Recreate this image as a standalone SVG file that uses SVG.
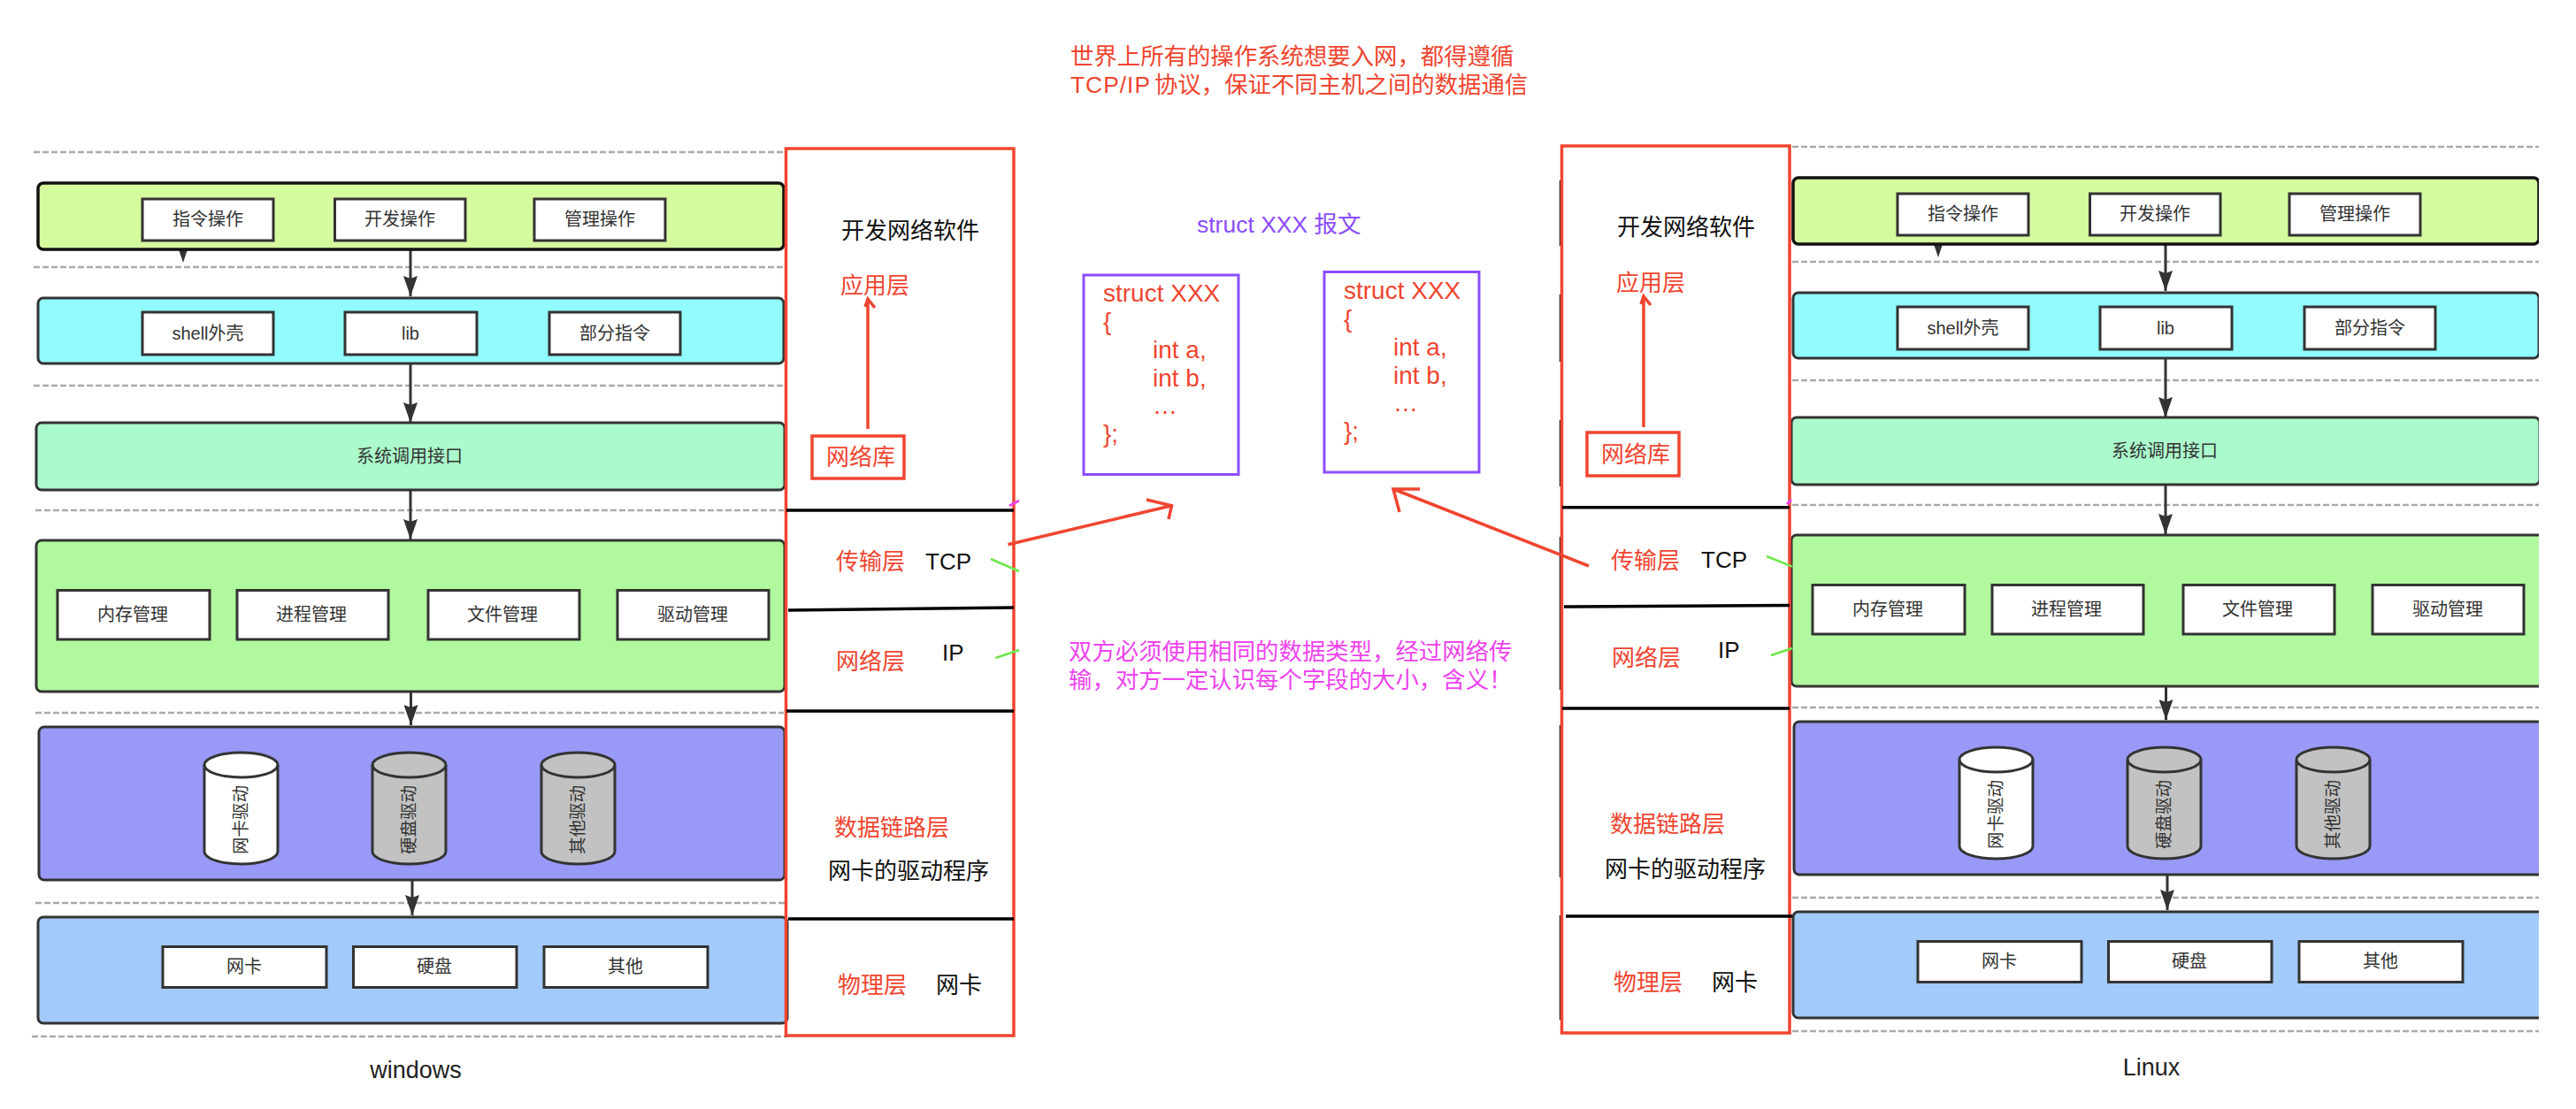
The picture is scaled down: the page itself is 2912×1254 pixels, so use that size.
<svg xmlns="http://www.w3.org/2000/svg" width="2912" height="1254" viewBox="0 0 2912 1254">
<style>
text{font-family:"Liberation Sans","Noto Sans CJK SC",sans-serif}
.bg{fill:#fff}
.bar{stroke:#333;stroke-width:3}
.top{fill:#d5fb9f;stroke:#111;stroke-width:3.5}
.cy{fill:#91fbfd}.sys{fill:#abfacb}.gr{fill:#b0f99f}.pu{fill:#9999f7}.bl{fill:#a2cafa}
.box{fill:#fff;stroke:#333;stroke-width:3}
.cyl{stroke:#333;stroke-width:3}
.cw{fill:#fff}.cg{fill:#c2c2c2}
.cylt{fill:none;stroke:#333;stroke-width:3}
.lb{font-size:20px;fill:#333;text-anchor:middle}
.vl{font-size:19.500px;fill:#333;text-anchor:middle}
.dash{stroke:#aaa;stroke-width:2.5;stroke-dasharray:7 3;fill:none}
.flow{stroke:#333;stroke-width:3;fill:none;marker-end:url(#ah)}
.rr{fill:none;stroke:#f04530;stroke-width:3.5}
.pb{fill:none;stroke:#8b4dff;stroke-width:3}
.bk{stroke:#000;stroke-width:3.5;fill:none}
.ra{fill:none;stroke:#f04530;stroke-width:3.5}
.gt{stroke:#6ce84a;stroke-width:2.5;fill:none}
.pt{stroke:#ee44ee;stroke-width:3;fill:none}
.rt{font-size:26px;fill:#f04530}
.nt{font-size:26.4px;fill:#f04530}
.kt{font-size:26px;fill:#111}
.st{font-size:28px;fill:#f04530}
.pk{font-size:26.4px;fill:#ee44ee}
.vt{font-size:26.5px;fill:#8b4dff}
.cap{font-size:27px;fill:#222;text-anchor:middle}
</style>
<defs>
<marker id="ah" markerUnits="userSpaceOnUse" markerWidth="24" markerHeight="16" refX="23" refY="8" orient="auto"><path d="M0,0L23,8L0,16L3,8Z" fill="#333"/></marker>
<clipPath id="crop"><rect x="0" y="0" width="2870" height="1254"/></clipPath>
</defs>
<rect class="bg" width="2912" height="1254"/>

<g id="guides-left" class="dash">
<path d="M38,172H886M38,302H886M38,436H886M40,577H886M40,806H886M40,1021H890M36,1172H890"/>
</g>
<g id="guides-right" class="dash">
<path d="M2026,166H2870M2026,296H2870M2026,430H2870M2026,571H2870M2026,800H2870M2026,1015H2870M2026,1166H2870"/>
</g>

<g id="connectors">
<g id="connectors-left">
<path class="flow" d="M464,282V335"/>
<path class="flow" d="M464,411V478"/>
<path class="flow" d="M464,554V610"/>
<path class="flow" d="M464.500,782V820"/>
<path class="flow" d="M466,995V1035"/>
<path d="M202,282H212L207,297Z" fill="#333"/>
</g>
<g id="connectors-right">
<path class="flow" d="M2448,276V329"/>
<path class="flow" d="M2448,405V472"/>
<path class="flow" d="M2448,548V604"/>
<path class="flow" d="M2448.500,776V814"/>
<path class="flow" d="M2450,989V1029"/>
<path d="M2186,276H2196L2191,291Z" fill="#333"/>
</g>
</g>

<g id="win-apps">
<rect class="top" x="43" y="207" width="843" height="75" rx="6"/>
<g id="win-a1"><rect class="box" x="161" y="225" width="148" height="47"/><text class="lb" x="235" y="255">指令操作</text></g>
<g id="win-a2"><rect class="box" x="378.500" y="225" width="147.500" height="47"/><text class="lb" x="452" y="255">开发操作</text></g>
<g id="win-a3"><rect class="box" x="604" y="225" width="148" height="47"/><text class="lb" x="678" y="255">管理操作</text></g>
</g>
<g id="win-shell">
<rect class="bar cy" x="43" y="337" width="843" height="74" rx="6"/>
<g id="win-s1"><rect class="box" x="161" y="353" width="148" height="48"/><text class="lb" x="235" y="384">shell外壳</text></g>
<g id="win-s2"><rect class="box" x="390" y="353" width="149" height="48"/><text class="lb" x="464" y="384">lib</text></g>
<g id="win-s3"><rect class="box" x="621" y="353" width="148" height="48"/><text class="lb" x="695" y="384">部分指令</text></g>
</g>
<g id="win-syscall">
<rect class="bar sys" x="41" y="478" width="846" height="76" rx="6"/>
<text class="lb" x="463" y="523">系统调用接口</text>
</g>
<g id="win-kernel">
<rect class="bar gr" x="41" y="611" width="846" height="171" rx="6"/>
<g id="win-k1"><rect class="box" x="65" y="667.500" width="172" height="55.500"/><text class="lb" x="150" y="702">内存管理</text></g>
<g id="win-k2"><rect class="box" x="268" y="667.500" width="171" height="55.500"/><text class="lb" x="352" y="702">进程管理</text></g>
<g id="win-k3"><rect class="box" x="484" y="667.500" width="171" height="55.500"/><text class="lb" x="568" y="702">文件管理</text></g>
<g id="win-k4"><rect class="box" x="698" y="667.500" width="171" height="55.500"/><text class="lb" x="783" y="702">驱动管理</text></g>
</g>
<g id="win-drivers">
<rect class="bar pu" x="44" y="822" width="843" height="173" rx="6"/>
<g id="win-d1"><path class="cyl cw" d="M231,865A41.500,14 0 0 1 314,865V963A41.500,14 0 0 1 231,963Z"/><path class="cylt" d="M231,865A41.500,14 0 0 0 314,865"/><text class="vl" transform="rotate(-90 272 927)" x="272" y="934">网卡驱动</text></g>
<g id="win-d2"><path class="cyl cg" d="M421,865A41.500,14 0 0 1 504,865V963A41.500,14 0 0 1 421,963Z"/><path class="cylt" d="M421,865A41.500,14 0 0 0 504,865"/><text class="vl" transform="rotate(-90 462 927)" x="462" y="934">硬盘驱动</text></g>
<g id="win-d3"><path class="cyl cg" d="M612,865A41.500,14 0 0 1 695,865V963A41.500,14 0 0 1 612,963Z"/><path class="cylt" d="M612,865A41.500,14 0 0 0 695,865"/><text class="vl" transform="rotate(-90 653 927)" x="653" y="934">其他驱动</text></g>
</g>
<g id="win-hw">
<rect class="bar bl" x="43" y="1037" width="847" height="120" rx="6"/>
<g id="win-h1"><rect class="box" x="184" y="1070.500" width="185" height="46"/><text class="lb" x="276" y="1100">网卡</text></g>
<g id="win-h2"><rect class="box" x="399.500" y="1070.500" width="184.500" height="46"/><text class="lb" x="491" y="1100">硬盘</text></g>
<g id="win-h3"><rect class="box" x="615" y="1070.500" width="185" height="46"/><text class="lb" x="707" y="1100">其他</text></g>
</g>
<text id="win-caption" class="cap" x="470" y="1219">windows</text>

<g clip-path="url(#crop)">
<g transform="translate(1984,-6)">
<g id="lin-apps">
<rect class="top" x="43" y="207" width="843" height="75" rx="6"/>
<g id="lin-a1"><rect class="box" x="161" y="225" width="148" height="47"/><text class="lb" x="235" y="255">指令操作</text></g>
<g id="lin-a2"><rect class="box" x="378.500" y="225" width="147.500" height="47"/><text class="lb" x="452" y="255">开发操作</text></g>
<g id="lin-a3"><rect class="box" x="604" y="225" width="148" height="47"/><text class="lb" x="678" y="255">管理操作</text></g>
</g>
<g id="lin-shell">
<rect class="bar cy" x="43" y="337" width="843" height="74" rx="6"/>
<g id="lin-s1"><rect class="box" x="161" y="353" width="148" height="48"/><text class="lb" x="235" y="384">shell外壳</text></g>
<g id="lin-s2"><rect class="box" x="390" y="353" width="149" height="48"/><text class="lb" x="464" y="384">lib</text></g>
<g id="lin-s3"><rect class="box" x="621" y="353" width="148" height="48"/><text class="lb" x="695" y="384">部分指令</text></g>
</g>
<g id="lin-syscall">
<rect class="bar sys" x="41" y="478" width="846" height="76" rx="6"/>
<text class="lb" x="463" y="523">系统调用接口</text>
</g>
<g id="lin-kernel">
<rect class="bar gr" x="41" y="611" width="870" height="171" rx="6"/>
<g id="lin-k1"><rect class="box" x="65" y="667.500" width="172" height="55.500"/><text class="lb" x="150" y="702">内存管理</text></g>
<g id="lin-k2"><rect class="box" x="268" y="667.500" width="171" height="55.500"/><text class="lb" x="352" y="702">进程管理</text></g>
<g id="lin-k3"><rect class="box" x="484" y="667.500" width="171" height="55.500"/><text class="lb" x="568" y="702">文件管理</text></g>
<g id="lin-k4"><rect class="box" x="698" y="667.500" width="171" height="55.500"/><text class="lb" x="783" y="702">驱动管理</text></g>
</g>
<g id="lin-drivers">
<rect class="bar pu" x="44" y="822" width="870" height="173" rx="6"/>
<g id="lin-d1"><path class="cyl cw" d="M231,865A41.500,14 0 0 1 314,865V963A41.500,14 0 0 1 231,963Z"/><path class="cylt" d="M231,865A41.500,14 0 0 0 314,865"/><text class="vl" transform="rotate(-90 272 927)" x="272" y="934">网卡驱动</text></g>
<g id="lin-d2"><path class="cyl cg" d="M421,865A41.500,14 0 0 1 504,865V963A41.500,14 0 0 1 421,963Z"/><path class="cylt" d="M421,865A41.500,14 0 0 0 504,865"/><text class="vl" transform="rotate(-90 462 927)" x="462" y="934">硬盘驱动</text></g>
<g id="lin-d3"><path class="cyl cg" d="M612,865A41.500,14 0 0 1 695,865V963A41.500,14 0 0 1 612,963Z"/><path class="cylt" d="M612,865A41.500,14 0 0 0 695,865"/><text class="vl" transform="rotate(-90 653 927)" x="653" y="934">其他驱动</text></g>
</g>
<g id="lin-hw">
<rect class="bar bl" x="43" y="1037" width="870" height="120" rx="6"/>
<g id="lin-h1"><rect class="box" x="184" y="1070.500" width="185" height="46"/><text class="lb" x="276" y="1100">网卡</text></g>
<g id="lin-h2"><rect class="box" x="399.500" y="1070.500" width="184.500" height="46"/><text class="lb" x="491" y="1100">硬盘</text></g>
<g id="lin-h3"><rect class="box" x="615" y="1070.500" width="185" height="46"/><text class="lb" x="707" y="1100">其他</text></g>
</g>
</g>
</g>
<text id="lin-caption" class="cap" x="2432" y="1216">Linux</text>

<path id="edge-strip" d="M1764,204V278M1764,333V409M1764,475V550M1764,607V780M1764,820V992M1764,1035V1153" stroke="#223" stroke-width="2.500" fill="none"/>

<g id="stack-left">
<rect class="rr" x="888.500" y="168" width="257.500" height="1003"/>
<path class="bk" d="M889,577H1146M891,690L1146,687M889,804H1146M891,1039H1146"/>
<text class="kt" x="951" y="270">开发网络软件</text>
<text class="rt" x="950" y="332">应用层</text>
<g id="left-lib"><rect class="rr" x="918" y="493" width="104" height="48"/><text class="rt" x="934" y="526">网络库</text></g>
<text class="rt" x="945" y="644">传输层</text><text class="kt" x="1046" y="644">TCP</text>
<text class="rt" x="945" y="757">网络层</text><text class="kt" x="1065" y="747">IP</text>
<text class="rt" x="943" y="945">数据链路层</text>
<text class="kt" x="936" y="994">网卡的驱动程序</text>
<text class="rt" x="947" y="1123">物理层</text><text class="kt" x="1058" y="1123">网卡</text>
</g>
<g id="stack-right">
<rect class="rr" x="1765.500" y="165" width="257.500" height="1003"/>
<path class="bk" d="M1766,573.700H2023M1768,686L2023,684.500M1766,801H2023M1770,1036H2026"/>
<text class="kt" x="1828" y="266">开发网络软件</text>
<text class="rt" x="1827" y="329">应用层</text>
<g id="right-lib"><rect class="rr" x="1794" y="489" width="104" height="49"/><text class="rt" x="1810" y="523">网络库</text></g>
<text class="rt" x="1821" y="643">传输层</text><text class="kt" x="1923" y="642">TCP</text>
<text class="rt" x="1822" y="753">网络层</text><text class="kt" x="1942" y="744">IP</text>
<text class="rt" x="1820" y="941">数据链路层</text>
<text class="kt" x="1814" y="992">网卡的驱动程序</text>
<text class="rt" x="1824" y="1120">物理层</text><text class="kt" x="1935" y="1120">网卡</text>
</g>

<g id="annotations">
<path class="ra" d="M981,485V339M978,347L981,338L989,348"/>
<path class="ra" d="M1858,483V336M1855,344L1858,335L1866,345"/>
<path class="ra" d="M1139.500,615.700L1324.500,571.700M1296,565L1324.500,571.700L1321,587"/>
<path class="ra" d="M1796,640L1575,553M1605,553L1575,553L1582,579"/>
<path class="pt" d="M1141,572L1152,566M2020,570L2025,565"/>
<path class="gt" d="M1120,632L1152,646M1125.500,744L1152,735M1997,629L2026,640.700M2002,741L2026,733"/>
</g>

<g id="note-top">
<text class="nt" x="1210" y="73">世界上所有的操作系统想要入网，都得遵循</text>
<text class="nt" x="1210" y="105"><tspan letter-spacing="1">TCP/IP</tspan><tspan x="1305">协议，保证不同主机之间的数据通信</tspan></text>
</g>
<text id="packet-title" class="vt" x="1353" y="263">struct XXX 报文</text>
<g id="packet-a">
<rect class="pb" x="1225" y="311" width="175" height="225.500"/>
<text class="st" x="1247" y="341">struct XXX</text>
<text class="st" x="1247" y="373">{</text>
<text class="st" x="1303" y="405">int a,</text>
<text class="st" x="1303" y="437">int b,</text>
<text class="st" x="1303" y="468">…</text>
<text class="st" x="1247" y="500">};</text>
</g>
<g id="packet-b">
<rect class="pb" x="1497" y="307.500" width="175" height="226.500"/>
<text class="st" x="1519" y="338">struct XXX</text>
<text class="st" x="1519" y="370">{</text>
<text class="st" x="1575" y="402">int a,</text>
<text class="st" x="1575" y="434">int b,</text>
<text class="st" x="1575" y="465">…</text>
<text class="st" x="1519" y="497">};</text>
</g>
<g id="note-mid">
<text class="pk" x="1208" y="746">双方必须使用相同的数据类型，经过网络传</text>
<text class="pk" x="1208" y="778">输，对方一定认识每个字段的大小，含义！</text>
</g>
</svg>
